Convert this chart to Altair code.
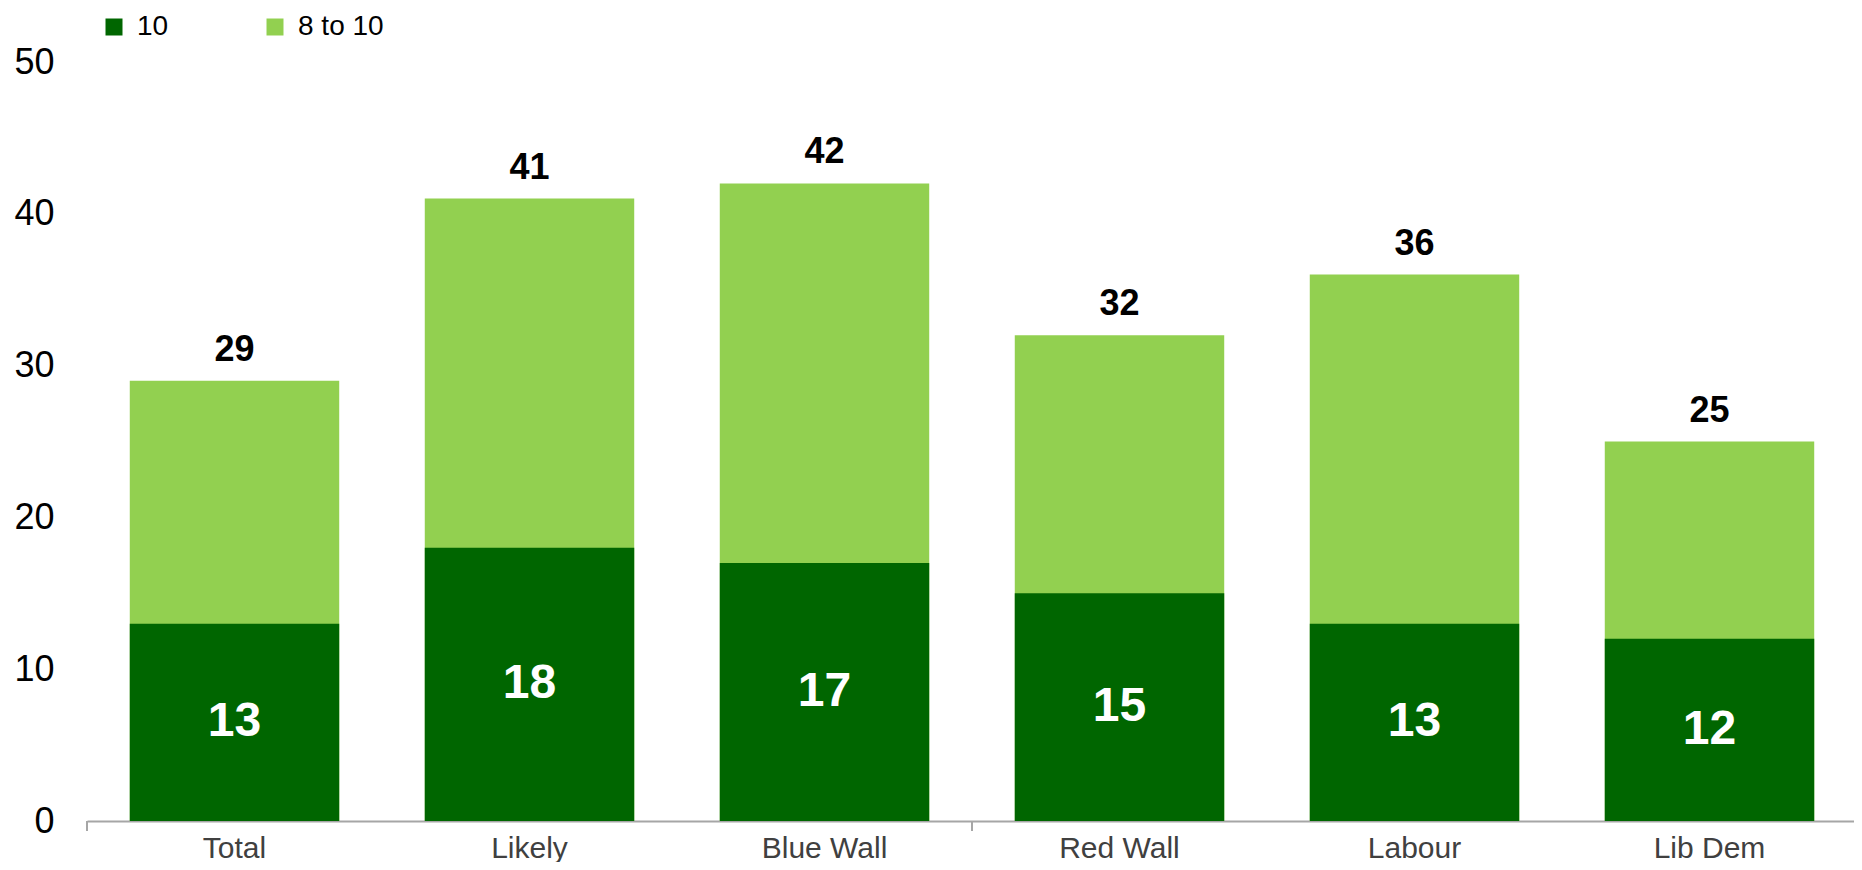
import altair as alt
import pandas as pd

categories = ["Total", "Likely", "Blue Wall", "Red Wall", "Labour", "Lib Dem"]
eight_to_ten = [29, 41, 42, 32, 36, 25]
ten = [13, 18, 17, 15, 13, 12]
series_names = ["10", "8 to 10"]
colors = ["#006600", "#92D050"]
# category-boundary positions that carry an axis tick (left edge, middle, right edge)
tick_bounds = [0, 3, 6]

W, H = 1770, 759
FONT = "Liberation Sans"

rows = []
for c, v in zip(categories, eight_to_ten):
    rows.append({"cat": c, "series": "8 to 10", "value": v, "ord": 0})
for c, v in zip(categories, ten):
    rows.append({"cat": c, "series": "10", "value": v, "ord": 1})
df = pd.DataFrame(rows)
df_tot = pd.DataFrame({"cat": categories, "value": eight_to_ten})
df_ten = pd.DataFrame({"cat": categories, "value": ten, "half": [v / 2 for v in ten]})
df_ticks = pd.DataFrame({"pos": tick_bounds})

xscale = alt.Scale(domain=categories, paddingInner=0.29, paddingOuter=0.145)
yscale = alt.Scale(domain=[0, 50])

x_enc = alt.X(
    "cat:N",
    scale=xscale,
    sort=categories,
    title=None,
    axis=alt.Axis(
        labelAngle=0,
        labelFont=FONT,
        labelFontSize=30,
        labelColor="#404040",
        labelPadding=12,
        ticks=False,
        domainColor="#A6A6A6",
        domainWidth=2,
    ),
)

bars = alt.Chart(df).mark_bar().encode(
    x=x_enc,
    y=alt.Y(
        "value:Q",
        scale=yscale,
        stack=None,
        title=None,
        axis=alt.Axis(
            values=[0, 10, 20, 30, 40, 50],
            grid=False,
            domain=False,
            ticks=False,
            labelFont=FONT,
            labelFontSize=36,
            labelColor="#000000",
            labelPadding=33,
        ),
    ),
    color=alt.Color(
        "series:N",
        scale=alt.Scale(domain=series_names, range=colors),
        legend=alt.Legend(
            title=None,
            orient="none",
            direction="horizontal",
            legendX=13,
            legendY=-49,
            symbolType="square",
            symbolSize=289,
            symbolStrokeWidth=0,
            labelFont=FONT,
            labelFontSize=28,
            labelColor="#000000",
            labelOffset=9,
            columnPadding=92,
            padding=0,
        ),
    ),
    order=alt.Order("ord:Q"),
)

tot_text = alt.Chart(df_tot).mark_text(
    font=FONT, fontSize=36, fontWeight="bold", color="#000000",
    baseline="alphabetic", dy=-20,
).encode(
    x=alt.X("cat:N", scale=xscale, sort=categories),
    y=alt.Y("value:Q", scale=yscale),
    text=alt.Text("value:Q"),
)

ten_text = alt.Chart(df_ten).mark_text(
    font=FONT, fontSize=48, fontWeight="bold", color="#FFFFFF",
    baseline="middle",
).encode(
    x=alt.X("cat:N", scale=xscale, sort=categories),
    y=alt.Y("half:Q", scale=yscale),
    text=alt.Text("value:Q"),
)

main = alt.layer(bars, tot_text, ten_text)

ticks = alt.Chart(df_ticks).mark_rule(color="#A6A6A6", strokeWidth=2).encode(
    x=alt.X("pos:Q", scale=alt.Scale(domain=[0, 6]), axis=None),
    y=alt.value(H),
    y2=alt.value(H + 10),
)

chart = alt.layer(main, ticks).resolve_scale(x="independent").properties(
    width=W,
    height=H,
    background="#FFFFFF",
    autosize=alt.AutoSizeParams(type="none"),
    padding={"left": 79, "top": 54, "right": -3, "bottom": 41},
).configure_view(stroke=None)

chart.save("out.html", embed_options={"renderer": "svg", "actions": False})
